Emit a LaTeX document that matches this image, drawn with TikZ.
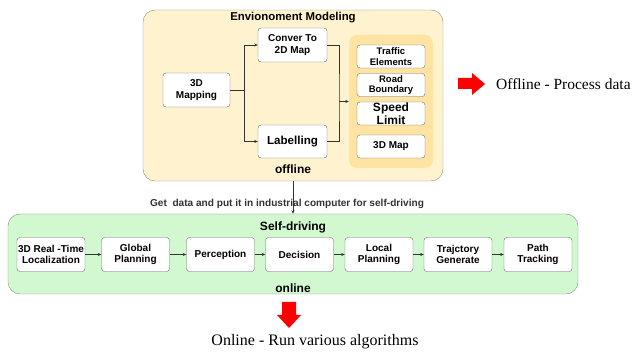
\documentclass[tikz,border=0pt]{standalone}
\usepackage{fontspec}
\setmainfont{Liberation Sans}
\newfontfamily\romain{Liberation Serif}
\usepackage{tikz}
\usetikzlibrary{arrows.meta, positioning, calc}

\definecolor{fondenv}{HTML}{FFF2CF}
\definecolor{fondpanneau}{HTML}{FFE3A3}
\definecolor{fondvert}{HTML}{D2F8CF}
\definecolor{traitgris}{HTML}{6E6E6E}

\begin{document}
\begin{tikzpicture}[
    x=1pt, y=-1pt,
    boite/.style={draw=traitgris, fill=white, rounded corners=3pt, align=center, inner sep=1pt,
                  minimum width=68pt, minimum height=34pt, font=\bfseries\fontsize{10}{11.5}\selectfont},
    petite/.style={boite, minimum height=23pt, inner ysep=0pt, font=\bfseries\fontsize{9.5}{10.5}\selectfont},
    zone/.style={draw=traitgris!80, rounded corners=12pt, inner sep=0pt},
    titre/.style={font=\bfseries\fontsize{12}{14}\selectfont},
    fl/.style={->, semithick, black!80},
    >={Stealth[length=3.5pt, width=3pt]}
]
    \useasboundingbox (0,0) rectangle (632,352);

    % Zones
    \node[zone, fill=fondenv, minimum width=300pt, minimum height=171pt] (env) at (293,95.5) {};
    \node[zone, fill=fondvert, minimum width=570pt, minimum height=80pt] (self) at (293,254) {};
    \node[fill=fondpanneau, rounded corners=8pt, minimum width=84pt, minimum height=133pt] (panneau) at (391,101.5) {};

    % Partie hors ligne
    \node[titre, font=\bfseries\fontsize{11.4}{13}\selectfont] (titreenv) at (293,18) {Envionoment Modeling};
    \node[titre] (offline) at (293,169) {offline};
    \node[boite, minimum width=67pt] (mapping) at (196.5,90) {3D\\Mapping};
    \node[boite, minimum width=69pt] (conver) at (292.5,45) {Conver To\\2D Map};
    \node[boite, minimum width=69pt, minimum height=33pt, font=\bfseries\fontsize{11.6}{13}\selectfont] (labelling) at (292.5,141.5) {Labelling};
    \node[petite] (traffic) at (391,56.5) {Traffic\\Elements};
    \node[petite] (road) at (391,85) {Road\\Boundary};
    \node[petite, font=\bfseries\fontsize{12}{13.5}\selectfont, text depth=-1pt] (speed) at (391,113.5) {Speed\\Limit};
    \node[petite, font=\bfseries\fontsize{10}{11}\selectfont] (map3d) at (391,146.5) {3D Map};

    % Liaisons hors ligne
    \coordinate (fourche) at (244,90);
    \coordinate (jonction) at (339,101.5);
    \draw[semithick, black!80] (mapping) -- (fourche);
    \draw[fl] (fourche) |- (conver);
    \draw[fl] (fourche) |- (labelling);
    \draw[semithick, black!80] (conver.east) -| (jonction) |- (labelling.east);
    \draw[fl] (jonction) -- (panneau);

    % Passage vers la voiture
    \draw[fl] (env) -- (self) node[pos=0.7, xshift=-6pt, font=\bfseries\fontsize{10.1}{12}\selectfont] {Get\ \ data and put it in industrial computer for self-driving};

    % Partie en ligne
    \node[titre] (titreself) at (293,227) {Self-driving};
    \node[titre] (online) at (293,288) {online};
    \node[boite] (loc) at (51,254.5) {3D Real -Time\\Localization};
    \node[boite] (glob) at (135.5,254.5) {Global\\Planning};
    \node[boite] (perc) at (220.5,254.5) {Perception};
    \node[boite] (dec) at (299.5,254.5) {Decision};
    \node[boite] (local) at (379,254.5) {Local\\Planning};
    \node[boite] (traj) at (458,254.5) {Trajctory\\Generate};
    \node[boite] (path) at (538,254.5) {Path\\Tracking};

    \draw[fl] (loc) -- (glob);
    \draw[fl] (glob) -- (perc);
    \draw[fl] (perc) -- (dec);
    \draw[fl] (dec) -- (local);
    \draw[fl] (local) -- (traj);
    \draw[fl] (traj) -- (path);

    % Grosses flèches rouges et légendes
    \fill[red] (458,78) -- (472,78) -- (472,73) -- (485,84) -- (472,95) -- (472,89) -- (458,89) -- cycle;
    \node[anchor=west, inner sep=0pt, font=\romain\fontsize{15.5}{18}\selectfont] (legoff) at (496,84) {Offline - Process data};
    \fill[red] (282,302) -- (296,302) -- (296,315) -- (301,315) -- (289,328) -- (277,315) -- (282,315) -- cycle;
    \node[font=\romain\fontsize{16}{18}\selectfont] (legon) at (315,342) {Online - Run various algorithms};

\end{tikzpicture}
\end{document}
